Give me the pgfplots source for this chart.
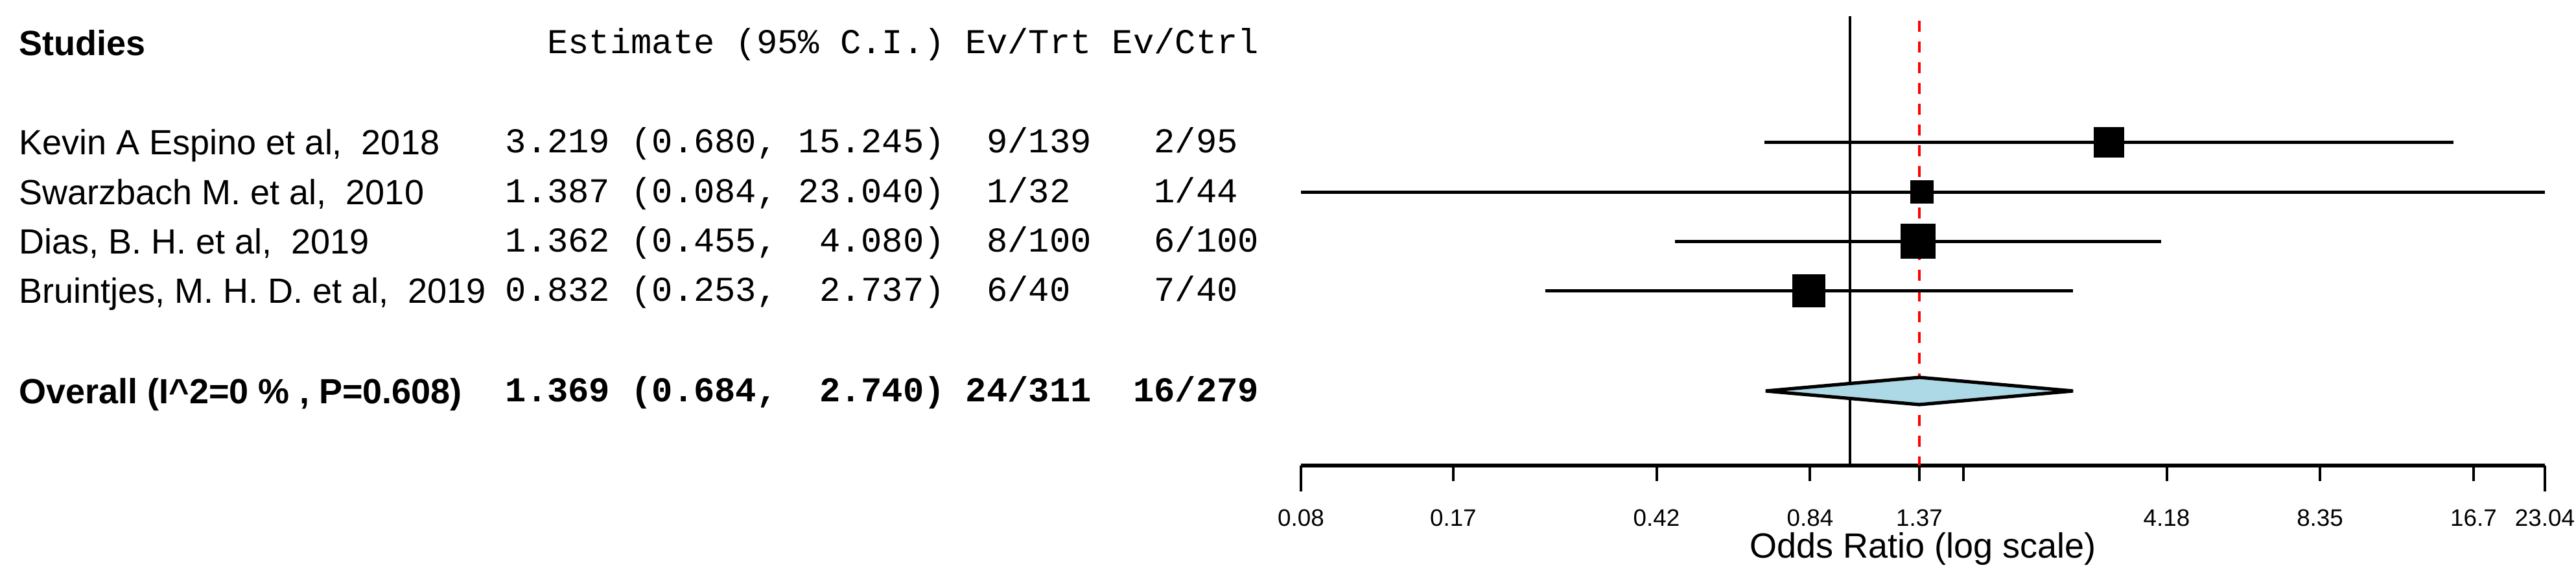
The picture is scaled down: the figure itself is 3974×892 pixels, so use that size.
\documentclass[border=0pt]{standalone}
\usepackage{fontspec}
\setmainfont{Liberation Sans}
\setmonofont{Liberation Mono}
\usepackage{pgfplots}
\pgfplotsset{compat=1.18}
\definecolor{lightblueR}{RGB}{173,216,230}
\begin{document}
\frenchspacing
\begin{tikzpicture}[x=0.25pt,y=0.25pt]
\path[use as bounding box] (0,0) rectangle (3974,892);
\begin{axis}[
  at={(501.75pt,43.5pt)}, anchor=south west,
  scale only axis, width=479.75pt, height=173.25pt,
  xmode=log, xmin=0.084, xmax=23.04, ymin=174, ymax=867,
  axis x line*=bottom, axis y line=none, ytick=\empty,
  clip=false,
  axis line style={line width=1.3pt},
  every outer x axis line/.append style={line width=1.3pt},
  x axis line style={line width=1.3pt},
  tick align=outside, major tick length=6pt,
  every tick/.style={black, line width=1pt},
  xtick={0.167,0.418,0.836,1.369,1.67,4.18,8.35,16.7},
  xticklabels={0.17,0.42,0.84,1.37,{},4.18,8.35,16.7},
  minor xtick={},
  extra x ticks={0.084,23.04},
  extra x tick labels={0.08,23.04},
  extra x tick style={major tick length=10pt, xticklabel style={yshift=4pt}},
  xticklabel style={font=\fontsize{9.2}{10}\selectfont, anchor=base, yshift=-17.25pt, inner sep=0pt},
  xlabel={Odds Ratio (log scale)},
  xlabel style={at={(axis description cs:0.5,0)}, anchor=base, yshift=-35.5pt, font=\fontsize{13.5}{16}\selectfont, inner sep=0pt},
]
% reference lines
\addplot[black, line width=1pt] coordinates {(1,867) (1,174)};
\addplot[red, line width=0.9pt, dash pattern=on 4.25pt off 3.75pt] coordinates {(1.369,860) (1.369,174)};
% confidence intervals
\addplot[black, line width=1.25pt] coordinates {(0.680,673) (15.245,673)};
\addplot[black, line width=1.25pt] coordinates {(0.084,596) (23.040,596)};
\addplot[black, line width=1.25pt] coordinates {(0.455,520) (4.080,520)};
\addplot[black, line width=1.25pt] coordinates {(0.253,444) (2.737,444)};
% point estimates
\addplot[only marks, mark=square*, mark size=5.75pt, mark options={fill=black, draw=black, line width=0pt}] coordinates {(3.219,673)};
\addplot[only marks, mark=square*, mark size=4.375pt, mark options={fill=black, draw=black, line width=0pt}] coordinates {(1.387,596)};
\addplot[only marks, mark=square*, mark size=6.625pt, mark options={fill=black, draw=black, line width=0pt}] coordinates {(1.362,520)};
\addplot[only marks, mark=square*, mark size=6.25pt, mark options={fill=black, draw=black, line width=0pt}] coordinates {(0.832,444)};
% overall diamond
\addplot[draw=black, fill=lightblueR, line width=1.3pt] coordinates {(0.684,289) (1.369,310) (2.740,289) (1.369,268)} -- cycle;
\end{axis}
% left columns
\begin{scope}[every node/.style={anchor=base west, inner sep=0pt}]
\node[font=\fontsize{13.5}{16}\selectfont\bfseries] at (29,807) {Studies};
\node[font=\fontsize{13.5}{16}\selectfont] at (29,654) {Kevin A Espino et al,\ \ 2018};
\node[font=\fontsize{13.5}{16}\selectfont] at (29,577) {Swarzbach M. et al,\ \ 2010};
\node[font=\fontsize{13.5}{16}\selectfont] at (29,501) {Dias, B. H. et al,\ \ 2019};
\node[font=\fontsize{13.5}{16}\selectfont] at (29,425) {Bruintjes, M. H. D. et al,\ \ 2019};
\node[font=\fontsize{13.5}{16}\selectfont\bfseries] at (29,270) {Overall (I\textasciicircum2=0 \% , P=0.608)};
\node[font=\fontsize{13.45}{16}\selectfont\ttfamily] at (779,810) {~~Estimate~(95\%~C.I.)~Ev/Trt~Ev/Ctrl};
\node[font=\fontsize{13.45}{16}\selectfont\ttfamily] at (779,657) {3.219~(0.680,~15.245)~~9/139~~~2/95};
\node[font=\fontsize{13.45}{16}\selectfont\ttfamily] at (779,580) {1.387~(0.084,~23.040)~~1/32~~~~1/44};
\node[font=\fontsize{13.45}{16}\selectfont\ttfamily] at (779,504) {1.362~(0.455,~~4.080)~~8/100~~~6/100};
\node[font=\fontsize{13.45}{16}\selectfont\ttfamily] at (779,428) {0.832~(0.253,~~2.737)~~6/40~~~~7/40};
\node[font=\fontsize{13.45}{16}\selectfont\ttfamily\bfseries] at (779,273) {1.369~(0.684,~~2.740)~24/311~~16/279};
\end{scope}
\end{tikzpicture}
\end{document}
